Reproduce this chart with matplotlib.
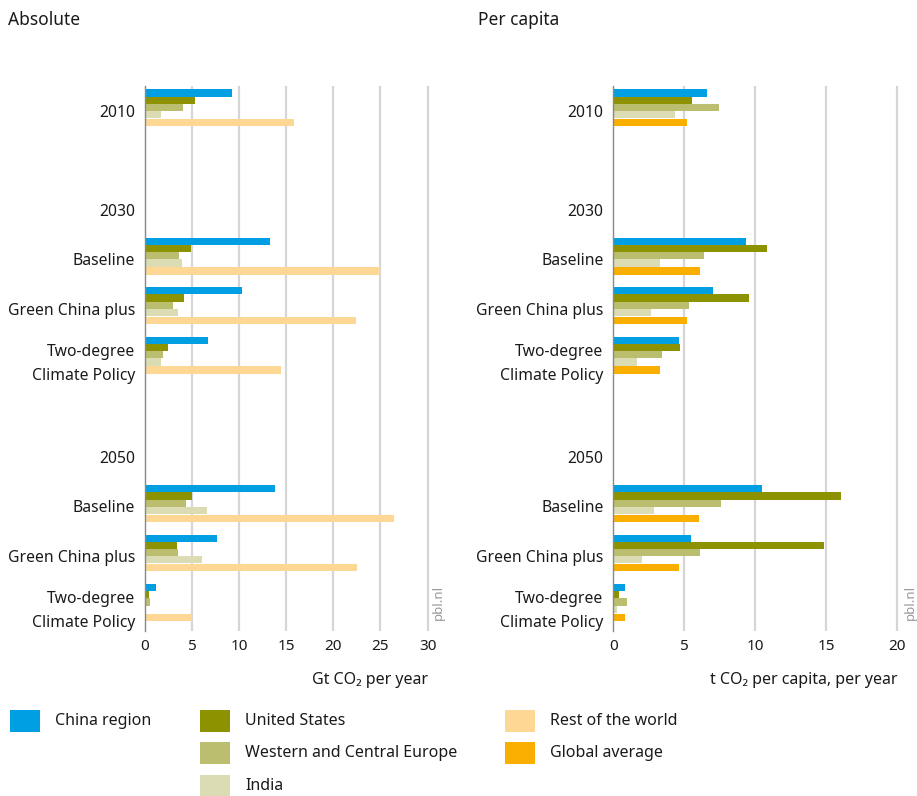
import matplotlib
matplotlib.use("Agg")
import matplotlib.pyplot as plt
import matplotlib.transforms as mtransforms
from matplotlib.patches import Rectangle
import numpy as np

plt.rcParams['font.family'] = ['Noto Sans', 'DejaVu Sans']

# row labels (top to bottom) and the rows that carry bars
row_labels = ["2010", "", "2030", "Baseline", "Green China plus",
              "Two-degree\nClimate Policy", "", "2050", "Baseline",
              "Green China plus", "Two-degree\nClimate Policy"]
bar_rows = [0, 3, 4, 5, 8, 9, 10]

# absolute emissions, Gt CO2 per year
china_abs = [9.2, 13.3, 10.25, 6.7, 13.75, 7.6, 1.2]
us_abs = [5.35, 4.9, 4.1, 2.45, 5.0, 3.45, 0.45]
wce_abs = [4.0, 3.65, 3.0, 1.95, 4.4, 3.5, 0.55]
india_abs = [1.75, 3.95, 3.5, 1.75, 6.6, 6.1, 0.05]
rest_abs = [15.8, 25.0, 22.45, 14.4, 26.45, 22.55, 5.0]

# per capita emissions, t CO2 per capita per year
china_pc = [6.6, 9.35, 7.0, 4.6, 10.45, 5.45, 0.8]
us_pc = [5.55, 10.8, 9.55, 4.7, 16.05, 14.85, 0.4]
wce_pc = [7.45, 6.4, 5.3, 3.4, 7.6, 6.1, 1.0]
india_pc = [4.35, 3.3, 2.65, 1.65, 2.85, 2.0, 0.25]
global_pc = [5.2, 6.1, 5.2, 3.3, 6.05, 4.6, 0.8]

c_china = '#009fe3'
c_us = '#8c9200'
c_wce = '#bbbe6f'
c_india = '#dcdcb4'
c_rest = '#fed795'
c_global = '#f9ae00'

W, H = 917, 796
fig = plt.figure(figsize=(W / 100, H / 100), dpi=100)

ax_top = 1 - 86 / H
ax_bot = 1 - 631 / H
ax1 = fig.add_axes([145 / W, ax_bot, 292 / W, ax_top - ax_bot])
ax2 = fig.add_axes([613.3 / W, ax_bot, 291 / W, ax_top - ax_bot])

bh = 0.146
offsets = [-2.45, -1.45, -0.45, 0.55, 1.65]


def draw_panel(ax, series, colors, xmax, ticks, xlabel, lab_x):
    y = np.array(bar_rows, dtype=float)
    for vals, off, col in zip(series, offsets, colors):
        ax.barh(y + off * bh, vals, height=bh, color=col, zorder=2)
    ax.set_ylim(10.52, -0.5)
    ax.set_xlim(0, xmax)
    ax.set_yticks(range(len(row_labels)))
    ax.set_yticklabels(row_labels, fontsize=11.3, color='#1a1a1a',
                       linespacing=1.65)
    ax.set_xticks(ticks)
    ax.set_xticklabels([str(t) for t in ticks], fontsize=11, color='#1a1a1a')
    ax.tick_params(axis='both', length=0)
    ax.tick_params(axis='y', pad=7)
    ax.tick_params(axis='x', pad=6)
    for t in ticks[1:]:
        ax.axvline(t, color='#d6d6d6', lw=1.6, zorder=1)
    for s in ['top', 'right', 'bottom']:
        ax.spines[s].set_visible(False)
    ax.spines['left'].set_color('#888888')
    ax.spines['left'].set_linewidth(1.0)
    trans = mtransforms.blended_transform_factory(ax.transData, ax.transAxes)
    ax.text(ticks[-1], -0.09, xlabel, transform=trans, ha='right',
            va='center', fontsize=11.5, color='#1a1a1a')
    ax.text(lab_x, 0.02, 'pbl.nl', transform=ax.transAxes, rotation=90,
            ha='center', va='bottom', fontsize=9.5, color='#999999')


draw_panel(ax1, [china_abs, us_abs, wce_abs, india_abs, rest_abs],
           [c_china, c_us, c_wce, c_india, c_rest], 31,
           [0, 5, 10, 15, 20, 25, 30], 'Gt CO\u2082 per year', 1.005)
draw_panel(ax2, [china_pc, us_pc, wce_pc, india_pc, global_pc],
           [c_china, c_us, c_wce, c_india, c_global], 20.5,
           [0, 5, 10, 15, 20], 't CO\u2082 per capita, per year', 1.02)

fig.text(8 / W, 1 - 20 / H, 'Absolute', fontsize=12.5, va='center',
         color='#1a1a1a')
fig.text(478 / W, 1 - 20 / H, 'Per capita', fontsize=12.5, va='center',
         color='#1a1a1a')

# legend laid out like the original, three columns
legend_items = [
    ('China region', c_china, 10, 721),
    ('United States', c_us, 200, 721),
    ('Western and Central Europe', c_wce, 200, 753),
    ('India', c_india, 200, 786),
    ('Rest of the world', c_rest, 505, 721),
    ('Global average', c_global, 505, 753),
]
for name, col, px, py in legend_items:
    fig.add_artist(Rectangle((px / W, 1 - (py + 11) / H), 30 / W, 22 / H,
                             transform=fig.transFigure, color=col,
                             lw=0))
    fig.text((px + 45) / W, 1 - py / H, name, fontsize=11.5, va='center',
             color='#1a1a1a')

fig.savefig('out.png', dpi=100)
